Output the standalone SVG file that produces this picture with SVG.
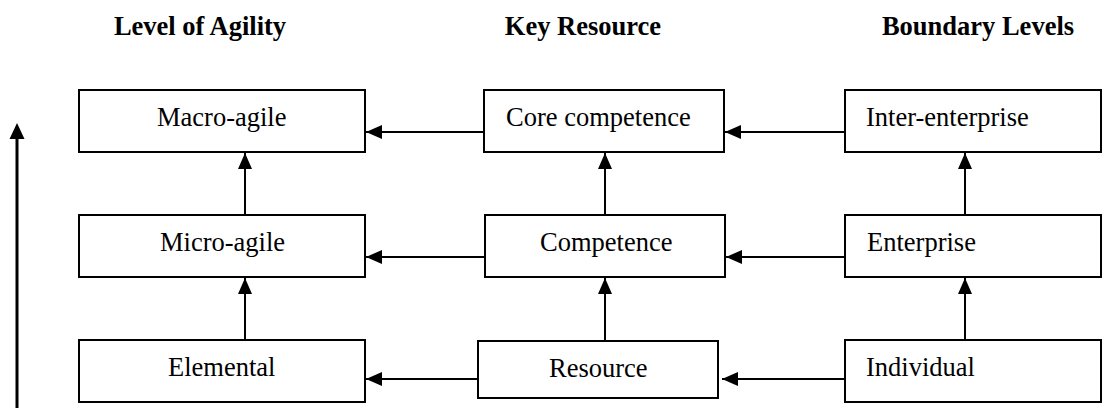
<svg xmlns="http://www.w3.org/2000/svg" width="1102" height="408" viewBox="0 0 1102 408">
  <defs>
    <style>
      .box { fill: #fff; stroke: #000; stroke-width: 2; }
      .lbl { font-family: "Liberation Serif", "Times New Roman", serif; font-size: 26.5px; fill: #000; }
      .hdr { font-family: "Liberation Serif", "Times New Roman", serif; font-size: 26.5px; font-weight: bold; fill: #000; text-anchor: middle; }
      .link { stroke: #000; stroke-width: 2; fill: none; marker-end: url(#head); }
    </style>
    <marker id="head" markerUnits="userSpaceOnUse" markerWidth="16" markerHeight="14" refX="16" refY="7" orient="auto">
      <path d="M0,0 L16,7 L0,14 z" fill="#000"/>
    </marker>
  </defs>

  <!-- column headings -->
  <g id="headings">
    <text class="hdr" x="200" y="35">Level of Agility</text>
    <text class="hdr" x="583" y="35">Key Resource</text>
    <text class="hdr" x="978" y="35">Boundary Levels</text>
  </g>

  <!-- upward axis on the left -->
  <g id="axis">
    <line x1="17" y1="408" x2="17" y2="138" stroke="#000" stroke-width="3"/>
    <path d="M17,123 L24.5,139 L9.5,139 z" fill="#000"/>
  </g>

  <!-- Level of Agility column -->
  <g id="macro-agile">
    <rect class="box" x="79" y="90" width="286" height="62"/>
    <text class="lbl" x="157" y="126">Macro-agile</text>
  </g>
  <g id="micro-agile">
    <rect class="box" x="79" y="215" width="286" height="62"/>
    <text class="lbl" x="160" y="251">Micro-agile</text>
  </g>
  <g id="elemental">
    <rect class="box" x="79" y="340" width="286" height="62"/>
    <text class="lbl" x="168" y="376">Elemental</text>
  </g>

  <!-- Key Resource column -->
  <g id="core-competence">
    <rect class="box" x="484" y="90" width="240" height="62"/>
    <text class="lbl" x="506" y="126">Core competence</text>
  </g>
  <g id="competence">
    <rect class="box" x="485" y="215" width="240" height="62"/>
    <text class="lbl" x="540" y="251">Competence</text>
  </g>
  <g id="resource">
    <rect class="box" x="478" y="341" width="240" height="57"/>
    <text class="lbl" x="549" y="377">Resource</text>
  </g>

  <!-- Boundary Levels column -->
  <g id="inter-enterprise">
    <rect class="box" x="845" y="90" width="256" height="62"/>
    <text class="lbl" x="866" y="126">Inter-enterprise</text>
  </g>
  <g id="enterprise">
    <rect class="box" x="845" y="215" width="256" height="62"/>
    <text class="lbl" x="867" y="251">Enterprise</text>
  </g>
  <g id="individual">
    <rect class="box" x="845" y="340" width="256" height="62"/>
    <text class="lbl" x="866" y="376">Individual</text>
  </g>

  <!-- connectors -->
  <g id="connectors">
    <!-- vertical: lower level feeds the level above -->
    <line class="link" x1="245" y1="215" x2="245" y2="153"/>
    <line class="link" x1="245" y1="340" x2="245" y2="278"/>
    <line class="link" x1="605" y1="215" x2="605" y2="153"/>
    <line class="link" x1="605" y1="341" x2="605" y2="278"/>
    <line class="link" x1="965" y1="215" x2="965" y2="153"/>
    <line class="link" x1="965" y1="340" x2="965" y2="278"/>
    <!-- horizontal: right column feeds the column to its left -->
    <line class="link" x1="484" y1="132" x2="366" y2="132"/>
    <line class="link" x1="845" y1="132" x2="725" y2="132"/>
    <line class="link" x1="485" y1="257" x2="366" y2="257"/>
    <line class="link" x1="845" y1="257" x2="726" y2="257"/>
    <line class="link" x1="478" y1="379" x2="366" y2="379"/>
    <line class="link" x1="845" y1="379" x2="722" y2="379"/>
  </g>
</svg>
